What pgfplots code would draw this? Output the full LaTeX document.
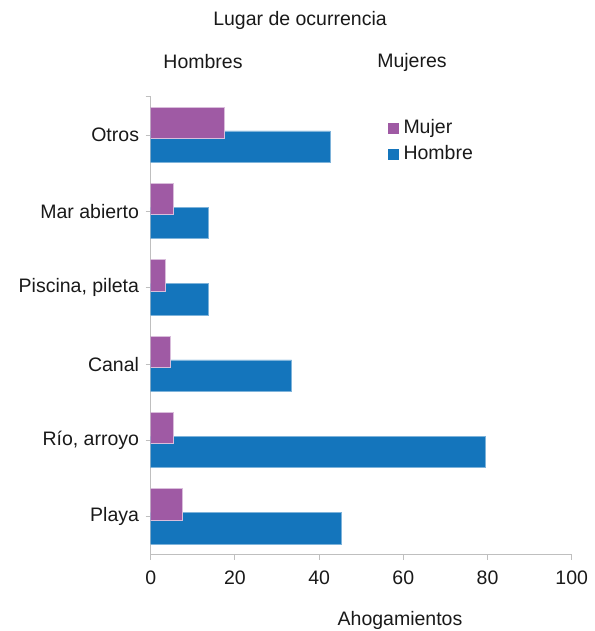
\documentclass[border=0pt]{standalone}
\usepackage{fontspec}
\setmainfont{Liberation Sans}
\usepackage{pgfplots}
\pgfplotsset{compat=1.18}
\definecolor{mujer}{HTML}{9F5AA4}
\definecolor{hombre}{HTML}{1475BC}
\definecolor{axgray}{HTML}{BFBFBF}
\newcommand{\fs}{\fontsize{19.5}{23}\selectfont}
\begin{document}
\fs
\begin{tikzpicture}
\useasboundingbox (-150.7pt,-76pt) rectangle (443.3pt,555pt);
\begin{axis}[
  scale only axis, width=421pt, height=458pt,
  anchor=south west, at={(0pt,0pt)},
  xmin=0, xmax=100, ymin=-0.5, ymax=5.5,
  xbar, bar width=0.41,
  axis lines*=left,
  axis line style={axgray, line width=1pt},
  tick style={axgray, line width=1pt},
  tick align=outside, major tick length=5pt,
  xtick={0,20,40,60,80,100},
  ytick={0,1,2,3,4,5},
  yticklabels={Playa, {Río, arroyo}, Canal, {Piscina, pileta}, {Mar abierto}, Otros},
  extra y ticks={5.5}, extra y tick labels={},
  /pgf/number format/assume math mode=true,
  ticklabel style={font=\fs, text=black!90},
  yticklabel style={xshift=0pt},
  xticklabel style={yshift=-4pt},
  reverse legend,
  legend style={draw=none, fill=none, at={(0.562,0.955)}, anchor=north west,
    font=\fs, inner sep=0pt, row sep=5pt,
    nodes={inner sep=2pt, text=black!90}},
  legend cell align=left,
  legend image code/.code={\path[#1, draw=none] (0pt,-5.5pt) rectangle (11pt,5.5pt);\path[draw=none, fill=none] (0pt,0pt) -- (14pt,0pt);},
]
\addplot[fill=hombre, draw=hombre!55!white, line width=0.8pt, bar shift=-0.15] coordinates {
  (45.4,0) (79.6,1) (33.5,2) (13.6,3) (13.6,4) (42.6,5)};
\addlegendentry{Hombre}
\addplot[fill=mujer, draw=mujer!40!white, line width=0.8pt, bar shift=0.163] coordinates {
  (7.5,0) (5.5,1) (4.6,2) (3.6,3) (5.5,4) (17.4,5)};
\addlegendentry{Mujer}
\end{axis}
\node[text=black!90] at (149.3pt,535pt) {Lugar de ocurrencia};
\node[text=black!90] at (52.3pt,493pt) {Hombres};
\node[text=black!90] at (261.3pt,493pt) {Mujeres};
\node[text=black!90] at (249.3pt,-65pt) {Ahogamientos};
\end{tikzpicture}
\end{document}
